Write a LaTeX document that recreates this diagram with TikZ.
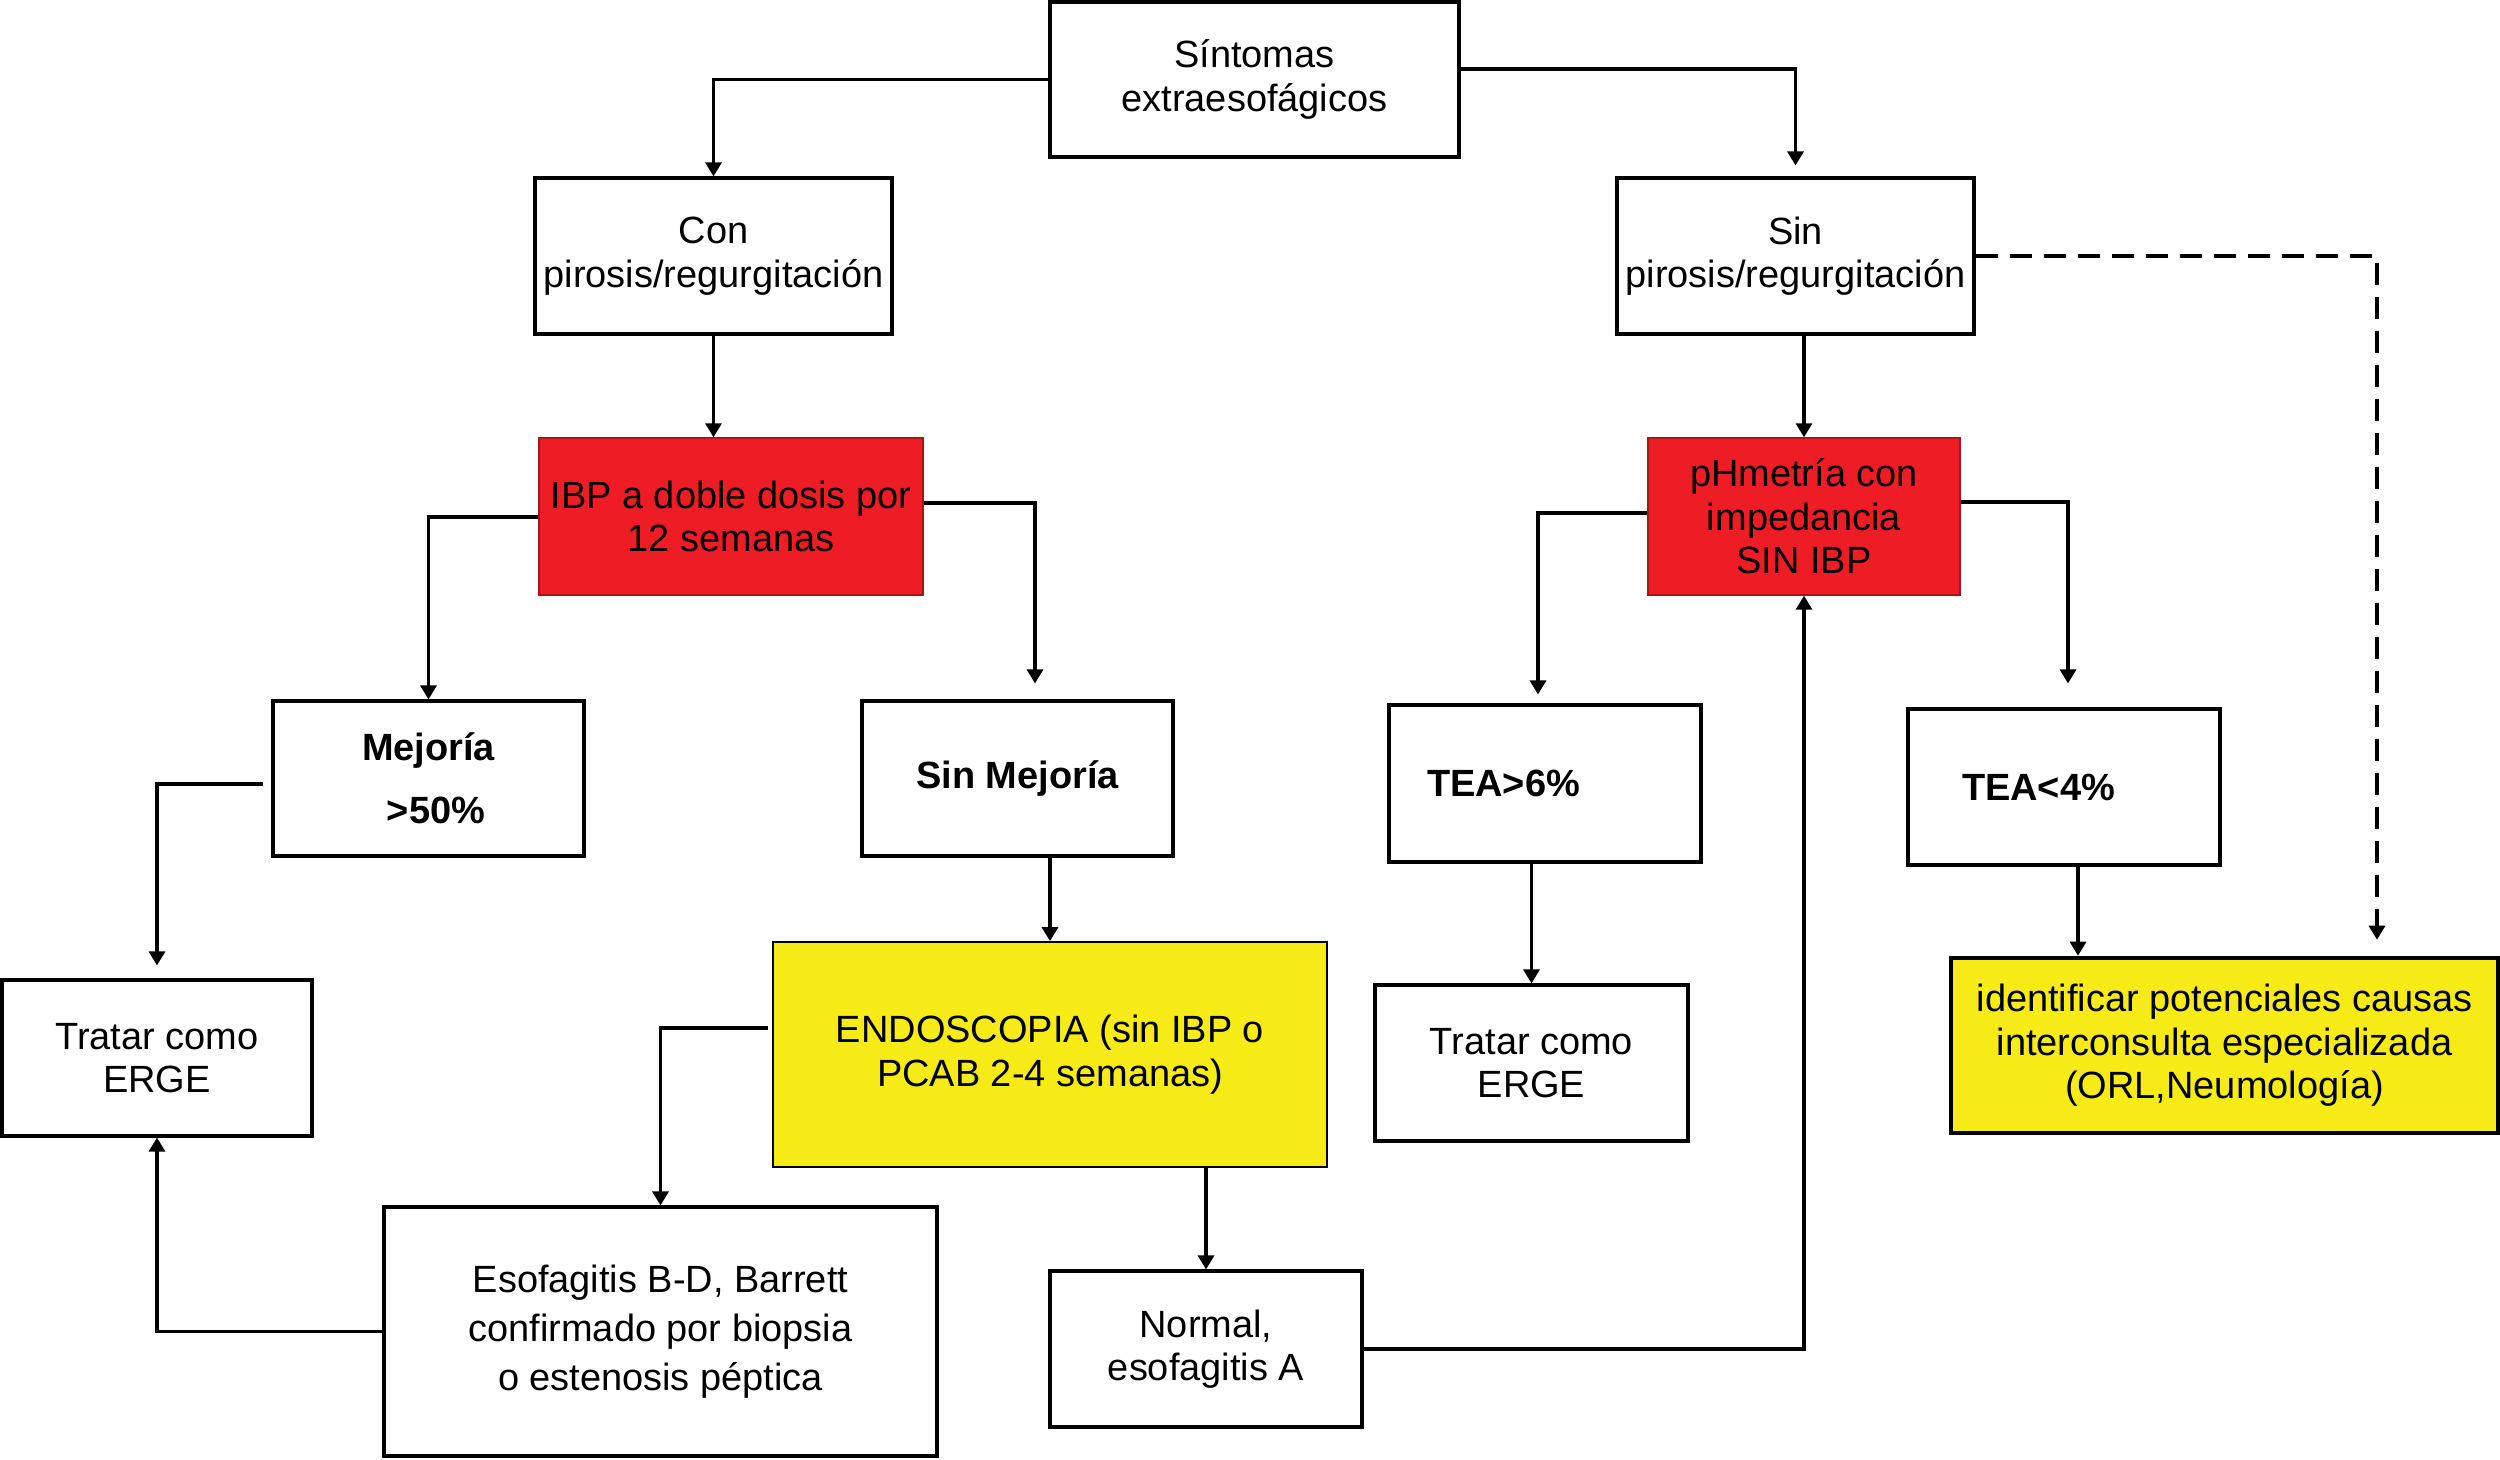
\documentclass[tikz,border=0pt]{standalone}
\usepackage{fontspec}
\setmainfont{Liberation Sans}
\usetikzlibrary{arrows.meta}
\definecolor{ibpred}{HTML}{EE1D25}
\definecolor{endoyellow}{HTML}{F6EB16}

\begin{document}
\begin{tikzpicture}[x=0.1mm,y=-0.1mm,
    every node/.style={font=\fontsize{10.8}{12.4}\selectfont,align=center,inner sep=0pt},
    box/.style 2 args={draw,line width=0.9pt,minimum width=#1,minimum height=#2},
    redbox/.style 2 args={box={#1}{#2},fill=ibpred,draw=ibpred!70!black,line width=0.4pt},
    yellowbox/.style 2 args={box={#1}{#2},fill=endoyellow},
    arr/.style={line width=0.9pt,-{Triangle[length=1.4mm,width=1.6mm]}},
    line/.style={line width=0.9pt}]
 \useasboundingbox (0,0) rectangle (2500,1459);
 % first level
 \node[box={40.9mm}{15.5mm}] (sint) at (1254.5,79.5) {Síntomas\\extraesofágicos};
 \node[box={35.7mm}{15.6mm}] (conp) at (713.5,256) {Con\\pirosis/regurgitación};
 \node[box={35.7mm}{15.6mm}] (sinp) at (1795.5,256) {Sin\\pirosis/regurgitación};
 % tests
 \node[redbox={38.4mm}{15.7mm}] (ibp) at (731,516.5) {IBP a doble dosis por\\12 semanas};
 \node[redbox={31.2mm}{15.7mm}] (ph) at (1804,516.5) {pHmetría con\\impedancia\\SIN IBP};
 % results
 \node[box={31.1mm}{15.5mm},font=\fontsize{10.8}{12.4}\selectfont\bfseries] (mej) at (428.5,778.5)
   {Mejoría\\[5.5pt]\hspace*{1.5mm}>50\%};
 \node[box={31.1mm}{15.5mm},font=\fontsize{10.8}{12.4}\selectfont\bfseries] (sinmej) at (1017.5,778.5)
   {Sin Mejoría};
 \node[box={31.2mm}{15.7mm},font=\fontsize{10.8}{12.4}\selectfont\bfseries,
   text width=23.6mm,inner xsep=3.8mm,align=left] (tea6) at (1545,783.5) {TEA>6\%};
 \node[box={31.2mm}{15.6mm},font=\fontsize{10.8}{12.4}\selectfont\bfseries,
   text width=20.4mm,inner xsep=5.4mm,align=left] (tea4) at (2064,787) {TEA<4\%};
 % outcomes
 \node[box={31.0mm}{15.6mm}] (trat1) at (157,1058) {Tratar como\\ERGE};
 \node[yellowbox={55.4mm}{22.5mm},line width=0.5pt] (endo) at (1050,1054.5)
   {ENDOSCOPIA (sin IBP o\\PCAB 2-4 semanas)};
 \node[box={31.3mm}{15.6mm}] (trat2) at (1531.5,1063) {Tratar como\\ERGE};
 \node[yellowbox={54.7mm}{17.5mm},line width=1.3pt] (ident) at (2224.5,1045.5)
   {identificar potenciales causas\\interconsulta especializada\\(ORL,Neumología)};
 \node[box={55.3mm}{24.9mm},font=\fontsize{10.8}{14}\selectfont] (esof) at (660.5,1331.5)
   {Esofagitis B-D, Barrett\\confirmado por biopsia\\o estenosis péptica};
 \node[box={31.2mm}{15.6mm}] (normal) at (1206,1349) {Normal,\\esofagitis A};
 % connectors
 \draw[arr] (sint.west) -| (conp.north);
 \draw[arr,shorten >=1.1mm] (sint.east |- 0,69) -| (sinp.north);
 \draw[arr] (conp.south) -- (conp.south |- ibp.north);
 \draw[arr] (sinp.south -| ph.north) -- (ph.north);
 \draw[arr] (ibp.west |- 0,517) -| (mej.north);
 \draw[arr,shorten >=1.6mm] (ibp.east |- 0,503) -| ([xshift=1.75mm]sinmej.north);
 \draw[arr,shorten >=0.9mm] (ph.west |- 0,513) -| ([xshift=-0.7mm]tea6.north);
 \draw[arr,shorten >=2.4mm] (ph.east |- 0,502) -| ([xshift=0.4mm]tea4.north);
 \draw[arr,dashed,dash pattern=on 2.2mm off 1.2mm,shorten >=1.6mm]
   (sinp.east |- 0,256) -| ([xshift=15.25mm]ident.north);
 \draw[arr,shorten <=0.8mm,shorten >=1.3mm] (mej.west |- 0,784) -| (trat1.north);
 \draw[arr] (sinmej.south -| endo.north) -- (endo.north);
 \draw[arr] (trat2.north |- tea6.south) -- (trat2.north);
 \draw[arr] ([xshift=1.4mm]tea4.south) -- ([xshift=1.4mm]tea4.south |- ident.north);
 \draw[arr,shorten <=0.4mm] (endo.west |- 0,1028) -| (esof.north);
 \draw[arr] (endo.south -| normal.north) -- (normal.north);
 \draw[arr] (esof.west) -| (trat1.south);
 \draw[arr] (normal.east) -| (ph.south);
\end{tikzpicture}
\end{document}
